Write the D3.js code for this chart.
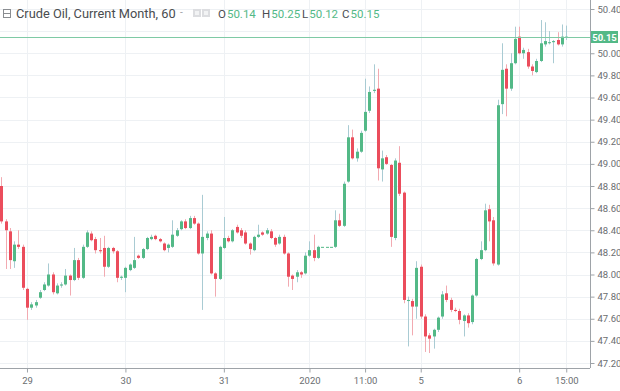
<!doctype html>
<html lang="en">
<head>
  <meta charset="UTF-8">
  <title>Crude Oil, Current Month, 60</title>
  <style>
    html, body { margin: 0; padding: 0; background: #fff; }
    #app { position: relative; width: 620px; height: 391px; }
    text { font-family: Roboto, 'Open Sans', sans-serif; }
  </style>
</head>
<body>
<div id="app"></div>
<script src="https://cdn.jsdelivr.net/npm/d3@7/dist/d3.min.js"></script>
<script>
  // hourly candles, left to right
  var opens = [48.80, 48.48, 48.39, 48.12, 48.27, 48.25, 47.87, 47.70, 47.72, 47.79,
    47.86, 47.90, 48.00, 47.83, 47.90, 47.91, 47.99, 47.95, 48.13, 47.97,
    48.25, 48.37, 48.32, 48.22, 48.24, 48.07, 48.24, 48.21, 47.97, 47.97,
    48.04, 48.06, 48.17, 48.15, 48.23, 48.32, 48.35, 48.32, 48.28, 48.24,
    48.25, 48.35, 48.41, 48.48, 48.42, 48.51, 48.46, 48.19, 48.33, 48.37,
    48.01, 47.96, 48.24, 48.33, 48.30, 48.43, 48.40, 48.38, 48.28, 48.22,
    48.34, 48.38, 48.37, 48.39, 48.33, 48.28, 48.34, 48.19, 47.99, 47.98,
    48.02, 48.01, 48.17, 48.22, 48.15, 48.25, 48.25, 48.25, 48.25, 48.49,
    48.44, 48.84, 49.24, 49.05, 49.11, 49.30, 49.48, 49.66, 49.68, 48.95,
    49.06, 48.99, 48.33, 49.01, 48.74, 47.76, 47.76, 47.71, 48.07, 47.62,
    47.45, 47.44, 47.50, 47.62, 47.83, 47.77, 47.68, 47.67, 47.58, 47.63,
    47.57, 47.81, 48.14, 48.22, 48.59, 48.49, 48.09, 49.54, 49.86, 49.68,
    49.91, 50.15, 50.00, 50.01, 49.88, 49.83, 49.93, 50.08, 50.10, 50.10,
    50.12, 50.08, 50.14];
  var highs = [48.88, 48.50, 48.42, 48.30, 48.40, 48.27, 47.88, 47.75, 47.77, 47.86,
    47.93, 48.10, 48.02, 47.92, 47.93, 48.05, 48.00, 48.24, 48.15, 48.27,
    48.40, 48.39, 48.34, 48.33, 48.35, 48.25, 48.25, 48.22, 47.99, 48.07,
    48.10, 48.34, 48.18, 48.24, 48.34, 48.36, 48.36, 48.33, 48.29, 48.28,
    48.49, 48.42, 48.49, 48.50, 48.53, 48.53, 48.47, 48.72, 48.39, 48.40,
    48.02, 48.26, 48.52, 48.35, 48.41, 48.45, 48.42, 48.40, 48.29, 48.35,
    48.45, 48.39, 48.42, 48.41, 48.34, 48.36, 48.36, 48.20, 48.00, 48.04,
    48.03, 48.20, 48.30, 48.36, 48.26, 48.25, 48.25, 48.25, 48.58, 48.55,
    48.84, 49.35, 49.31, 49.14, 49.30, 49.77, 49.70, 49.90, 49.86, 49.12,
    49.08, 49.00, 49.05, 49.16, 48.75, 47.80, 47.78, 48.12, 48.09, 47.64,
    47.47, 47.51, 47.62, 47.85, 47.90, 47.79, 47.70, 47.69, 47.64, 47.65,
    47.82, 48.15, 48.30, 48.64, 48.63, 48.52, 49.58, 50.09, 49.90, 50.00,
    50.24, 50.24, 50.05, 50.04, 49.90, 49.95, 50.30, 50.28, 50.20, 50.12,
    50.19, 50.26, 50.25];
  var lows = [48.46, 48.05, 48.05, 48.06, 48.23, 47.86, 47.59, 47.68, 47.70, 47.78,
    47.85, 47.89, 47.82, 47.82, 47.88, 47.90, 47.81, 47.94, 47.95, 47.96,
    48.24, 48.30, 48.19, 48.19, 47.98, 48.06, 48.19, 47.93, 47.95, 47.84,
    48.03, 48.05, 48.14, 48.14, 48.22, 48.31, 48.31, 48.29, 48.21, 48.20,
    48.24, 48.34, 48.40, 48.41, 48.41, 48.45, 48.18, 47.68, 48.31, 48.00,
    47.80, 47.95, 48.23, 48.29, 48.29, 48.37, 48.33, 48.27, 48.18, 48.21,
    48.33, 48.35, 48.36, 48.32, 48.25, 48.27, 48.18, 47.89, 47.86, 47.93,
    47.97, 48.00, 48.16, 48.12, 48.14, 48.25, 48.25, 48.25, 48.24, 48.43,
    48.43, 48.83, 49.04, 49.02, 49.10, 49.29, 49.46, 49.64, 48.85, 48.84,
    48.99, 48.25, 48.31, 48.71, 47.74, 47.35, 47.45, 47.60, 47.60, 47.30,
    47.29, 47.33, 47.48, 47.60, 47.75, 47.66, 47.66, 47.55, 47.44, 47.52,
    47.55, 47.80, 48.13, 48.21, 48.30, 48.08, 48.08, 49.45, 49.43, 49.66,
    49.90, 49.99, 49.95, 49.86, 49.80, 49.82, 49.92, 50.06, 50.08, 49.91,
    50.07, 50.06, 50.12];
  var closes = [48.48, 48.40, 48.13, 48.27, 48.25, 47.88, 47.70, 47.73, 47.75, 47.84,
    47.91, 48.00, 47.84, 47.90, 47.91, 47.99, 47.95, 48.13, 47.97, 48.25,
    48.38, 48.31, 48.22, 48.21, 48.07, 48.24, 48.21, 47.97, 47.98, 48.06,
    48.09, 48.13, 48.15, 48.23, 48.33, 48.34, 48.32, 48.30, 48.22, 48.27,
    48.36, 48.40, 48.48, 48.42, 48.51, 48.46, 48.19, 48.34, 48.37, 48.01,
    47.96, 48.25, 48.33, 48.30, 48.40, 48.38, 48.35, 48.28, 48.23, 48.34,
    48.36, 48.36, 48.40, 48.33, 48.27, 48.34, 48.19, 47.98, 47.96, 48.02,
    48.00, 48.17, 48.22, 48.15, 48.25, 48.25, 48.25, 48.25, 48.49, 48.44,
    48.82, 49.24, 49.05, 49.11, 49.28, 49.47, 49.65, 49.67, 48.96, 49.05,
    49.00, 48.34, 49.03, 48.73, 47.77, 47.77, 47.71, 48.06, 47.62, 47.44,
    47.42, 47.50, 47.61, 47.82, 47.77, 47.68, 47.67, 47.59, 47.63, 47.56,
    47.81, 48.14, 48.22, 48.58, 48.48, 48.10, 49.53, 49.85, 49.68, 49.91,
    50.13, 50.00, 50.03, 49.88, 49.84, 49.93, 50.09, 50.11, 50.10, 50.11,
    50.08, 50.15, 50.15];

  var tickIndex = [6, 29, 52, 72, 85, 98, 121, 132];
  var tickLabel = ['29', '30', '31', '2020', '11:00', '5', '6', '15:00'];
  var priceTicks = [47.2, 47.4, 47.6, 47.8, 48.0, 48.2, 48.4, 48.6, 48.8,
    49.0, 49.2, 49.4, 49.6, 49.8, 50.0, 50.2, 50.4];

  var lastBar = {o: 50.14, h: 50.25, l: 50.12, c: 50.15};
  var title = 'Crude Oil, Current Month, 60';

  var upColor = '#53b987';
  var downColor = '#eb4d5c';
  var width = 620;
  var height = 391;
  var plotRight = 590;
  var plotBottom = 368;

  var candles = opens.map(function(o, i) {
    return {i: i, o: o, h: highs[i], l: lows[i], c: closes[i]};
  });

  var x = d3.scaleLinear().domain([-0.304, 137.55]).range([0, plotRight]);
  var y = d3.scaleLinear().domain([47.2, 50.4]).range([363, 9]);

  var svg = d3.select('#app')
              .append('svg')
              .attr('width', width)
              .attr('height', height);

  // grid
  svg.append('g')
    .selectAll('line')
    .data(priceTicks)
    .enter()
    .append('line')
    .attr('x1', 0)
    .attr('x2', plotRight)
    .attr('y1', d => Math.round(y(d)) + 0.5)
    .attr('y2', d => Math.round(y(d)) + 0.5)
    .attr('stroke', '#eef1f4');

  svg.append('g')
    .selectAll('line')
    .data(tickIndex)
    .enter()
    .append('line')
    .attr('x1', d => Math.round(x(d)) + 0.5)
    .attr('x2', d => Math.round(x(d)) + 0.5)
    .attr('y1', 0)
    .attr('y2', plotBottom)
    .attr('stroke', '#eef1f4');

  // candles
  var g = svg.append('g');
  g.selectAll('line.wick')
    .data(candles)
    .enter()
    .append('line')
    .attr('class', 'wick')
    .attr('x1', d => Math.round(x(d.i)) + 0.5)
    .attr('x2', d => Math.round(x(d.i)) + 0.5)
    .attr('y1', d => y(d.h))
    .attr('y2', d => y(d.l))
    .attr('stroke', d => d.c >= d.o ? '#a9cbd3' : '#f2aab1')
    .attr('stroke-width', 1);

  g.selectAll('rect.body')
    .data(candles)
    .enter()
    .append('rect')
    .attr('class', 'body')
    .attr('x', d => Math.round(x(d.i)) - 1)
    .attr('width', 3)
    .attr('y', d => y(Math.max(d.o, d.c)))
    .attr('height', d => Math.max(1, y(Math.min(d.o, d.c)) - y(Math.max(d.o, d.c))))
    .attr('fill', d => d.c >= d.o ? upColor : downColor);

  // last price line
  var lastY = Math.round(y(lastBar.c)) + 0.5;
  svg.append('line')
    .attr('x1', 0)
    .attr('x2', plotRight)
    .attr('y1', lastY)
    .attr('y2', lastY)
    .attr('stroke', '#7fcaa5');

  // price axis; the 50.20 label sits under the last-price badge
  var yAxis = svg.append('g')
    .attr('transform', 'translate(' + (plotRight + 0.5) + ',0)')
    .call(d3.axisRight(y).tickValues(priceTicks).tickSize(4).tickPadding(3)
      .tickFormat(d => Math.abs(d - lastBar.c) < 0.1 ? '' : d3.format('.2f')(d)));
  yAxis.select('.domain').attr('stroke', '#9ea3a8').attr('d', 'M0,0V' + plotBottom);
  yAxis.selectAll('.tick line').attr('stroke', '#9ea3a8');
  yAxis.selectAll('.tick text')
    .attr('fill', '#6a6d70')
    .style('font-size', '9.5px');

  // time axis
  var xAxis = svg.append('g')
    .attr('transform', 'translate(0,' + (plotBottom + 0.5) + ')')
    .call(d3.axisBottom(x).tickValues(tickIndex).tickSize(4).tickPadding(5)
      .tickFormat((d, k) => tickLabel[k]));
  xAxis.select('.domain').attr('stroke', '#9ea3a8').attr('d', 'M0,0H' + plotRight);
  xAxis.selectAll('.tick line').attr('stroke', '#9ea3a8');
  xAxis.selectAll('.tick text')
    .attr('fill', '#6a6d70')
    .style('font-size', '9.5px');

  // last price label
  svg.append('rect')
    .attr('x', plotRight + 1)
    .attr('y', lastY - 6.5)
    .attr('width', 27)
    .attr('height', 12)
    .attr('fill', upColor);
  svg.append('text')
    .attr('x', plotRight + 14.5)
    .attr('y', lastY + 3.5)
    .attr('text-anchor', 'middle')
    .attr('fill', '#fff')
    .style('font-size', '9.5px')
    .style('font-weight', 'bold')
    .text(d3.format('.2f')(lastBar.c));

  // header
  var head = svg.append('g');
  head.append('rect')
    .attr('x', 3.5).attr('y', 9.5).attr('width', 7).attr('height', 8)
    .attr('fill', 'none').attr('stroke', '#8a8d91');
  head.append('line')
    .attr('x1', 4).attr('x2', 10).attr('y1', 13.5).attr('y2', 13.5)
    .attr('stroke', '#8a8d91');
  head.append('text')
    .attr('x', 16).attr('y', 18)
    .attr('fill', '#4a4d50')
    .style('font-size', '12.8px')
    .text(title);
  head.append('text')
    .attr('x', 180).attr('y', 16)
    .attr('fill', '#a0a3a6')
    .style('font-size', '10px')
    .text('-');
  [193, 202].forEach(function(px) {
    head.append('rect')
      .attr('x', px).attr('y', 9).attr('width', 8).attr('height', 8)
      .attr('fill', '#dcdde0');
    head.append('rect')
      .attr('x', px + 2).attr('y', 11).attr('width', 4).attr('height', 4)
      .attr('fill', '#f2f3f4');
  });

  var ohlc = [['O', lastBar.o, 218], ['H', lastBar.h, 262], ['L', lastBar.l, 302], ['C', lastBar.c, 342]];
  ohlc.forEach(function(d) {
    var t = head.append('text')
      .attr('x', d[2]).attr('y', 18)
      .style('font-size', '11.5px');
    t.append('tspan').attr('fill', '#4a4d50').text(d[0]);
    t.append('tspan').attr('fill', upColor).attr('dx', 1).text(d3.format('.2f')(d[1]));
  });
</script>
</body>
</html>
